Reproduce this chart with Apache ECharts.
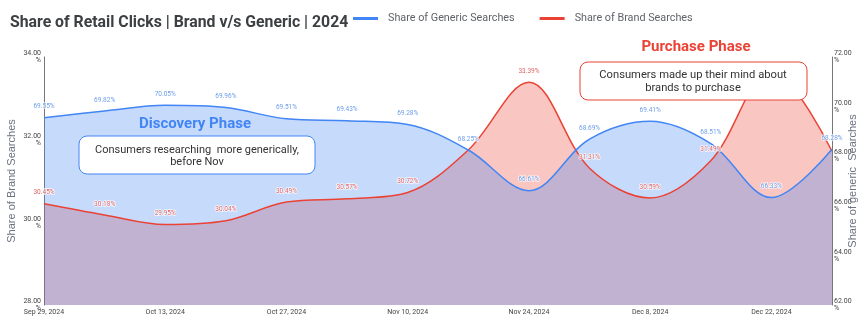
<!DOCTYPE html>
<html>
<head>
<meta charset="utf-8">
<script src="https://cdn.jsdelivr.net/npm/echarts@6/dist/echarts.min.js"></script>
<style>html,body{margin:0;padding:0;background:#fff}#c{width:867px;height:330px}</style>
</head>
<body>
<div id="c"></div>
<script>
const categories = ['Sep 29, 2024','Oct 6, 2024','Oct 13, 2024','Oct 20, 2024','Oct 27, 2024','Nov 3, 2024','Nov 10, 2024','Nov 17, 2024','Nov 24, 2024','Dec 1, 2024','Dec 8, 2024','Dec 15, 2024','Dec 22, 2024','Dec 29, 2024'];
const genericShare = [69.55,69.82,70.05,69.96,69.51,69.43,69.28,68.25,66.61,68.69,69.41,68.51,66.33,68.28];
const brandShare = [30.45,30.18,29.95,30.04,30.49,30.57,30.72,31.75,33.39,31.31,30.59,31.49,33.67,31.72];
const brandHiddenLabels = [7,12,13];
const leftTicks = {min:28,max:34,interval:2};
const rightTicks = {min:62,max:72,interval:2};

const FONT = 'Roboto, Arial, sans-serif';
const BLUE = '#4285f4', RED = '#ea4335';
const CLEAR = 'rgba(0,0,0,0)';

const chart = echarts.init(document.getElementById('c'), null, {renderer:'canvas'});

const brandData = brandShare.map((v,i)=> brandHiddenLabels.includes(i) ? {value:v,label:{show:false}} : v);

const option = {
  animation:false,
  textStyle:{fontFamily:FONT},
  title:{text:'Share of Retail Clicks | Brand v/s Generic | 2024',left:5,top:10,
    textStyle:{fontFamily:FONT,fontSize:15.8,fontWeight:'bold',color:'#3c4043'}},
  legend:{left:353,top:13,padding:0,itemWidth:25,itemHeight:3,itemGap:25,icon:'rect',
    data:[{name:'Share of Generic Searches',itemStyle:{color:BLUE,opacity:1}},
          {name:'Share of Brand Searches',itemStyle:{color:RED,opacity:1}}],
    textStyle:{fontFamily:FONT,fontSize:10.8,color:'#5f6368',padding:[0,0,0,5]}},
  grid:{left:44,right:35,top:57,bottom:25,containLabel:false,outerBoundsMode:'none'},
  xAxis:{type:'category',data:categories,boundaryGap:false,
    axisLine:{show:false},axisTick:{show:false},
    axisLabel:{interval:1,fontSize:7,color:'#444',margin:4,fontFamily:FONT}},
  yAxis:[
    {type:'value',min:leftTicks.min,max:leftTicks.max,interval:leftTicks.interval,position:'left',
     name:'Share of Brand Searches',nameLocation:'middle',nameGap:27,nameRotate:90,nameMoveOverlap:false,
     nameTextStyle:{fontFamily:'Arial, sans-serif',fontSize:11,color:'#6b7280'},
     axisLine:{show:true,lineStyle:{color:'#777',width:1}},axisTick:{show:false},splitLine:{show:false},
     axisLabel:{fontSize:7,color:'#444',margin:3,formatter:v=>v.toFixed(2)+'\n%'}},
    {type:'value',min:rightTicks.min,max:rightTicks.max,interval:rightTicks.interval,position:'right',
     name:'Share of generic  Searches',nameLocation:'middle',nameGap:15,nameRotate:90,nameMoveOverlap:false,
     nameTextStyle:{fontFamily:'Arial, sans-serif',fontSize:11,color:'#6b7280'},
     axisLine:{show:true,lineStyle:{color:'#777',width:1}},axisTick:{show:false},splitLine:{show:false},
     axisLabel:{fontSize:7,color:'#444',margin:2,formatter:v=>v.toFixed(2)+'\n%'}}
  ],
  series:[
    {name:'Share of Brand Searches',type:'line',yAxisIndex:0,data:brandData,smooth:0.35,
     symbol:'circle',symbolSize:1,showSymbol:true,lineStyle:{color:RED,width:1.5},itemStyle:{color:CLEAR,borderWidth:0},
     areaStyle:{color:RED,opacity:0.3,origin:'start'},
     label:{show:true,position:'top',distance:7,fontSize:6.5,color:'#e06666',
       textBorderColor:'rgba(255,255,255,0.8)',textBorderWidth:1.5,formatter:p=>p.value.toFixed(2)+'%'}},
    {name:'Share of Generic Searches',type:'line',yAxisIndex:1,data:genericShare,smooth:0.35,
     symbol:'circle',symbolSize:1,showSymbol:true,lineStyle:{color:BLUE,width:1.5},itemStyle:{color:CLEAR,borderWidth:0},
     areaStyle:{color:BLUE,opacity:0.3,origin:'start'},
     label:{show:true,position:'top',distance:7,fontSize:6.5,color:'#6d9eeb',
       textBorderColor:'rgba(255,255,255,0.8)',textBorderWidth:1.5,formatter:p=>p.value.toFixed(2)+'%'}}
  ],
  graphic:[
    {type:'text',style:{text:'Discovery Phase',font:'bold 15px Roboto, Arial, sans-serif',fill:BLUE,textAlign:'center',textVerticalAlign:'middle'},x:195,y:124,z:100},
    {type:'rect',shape:{x:79,y:136,width:236,height:38,r:8},style:{fill:'#fff',stroke:BLUE,lineWidth:1},z:100},
    {type:'text',style:{text:'Consumers researching  more generically,\nbefore Nov',font:'11px Roboto, Arial, sans-serif',fill:'#333',textAlign:'center',textVerticalAlign:'middle',lineHeight:12.5},x:197,y:156,z:101},
    {type:'text',style:{text:'Purchase Phase',font:'bold 15px Roboto, Arial, sans-serif',fill:RED,textAlign:'center',textVerticalAlign:'middle'},x:696,y:47,z:100},
    {type:'rect',shape:{x:580,y:62,width:227,height:38,r:8},style:{fill:'#fff',stroke:RED,lineWidth:1},z:100},
    {type:'text',style:{text:'Consumers made up their mind about\nbrands to purchase',font:'11.2px Roboto, Arial, sans-serif',fill:'#333',textAlign:'center',textVerticalAlign:'middle',lineHeight:13},x:693,y:81.5,z:101}
  ]
};
chart.setOption(option);
</script>
</body>
</html>
